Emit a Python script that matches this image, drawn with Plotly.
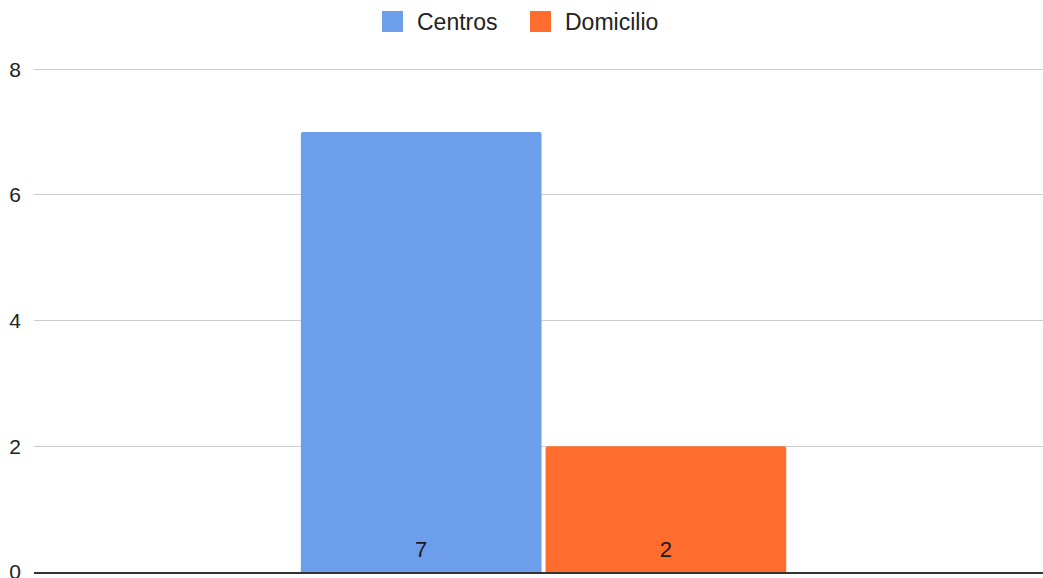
import plotly.graph_objects as go

categories = [""]
centros = [7]
domicilio = [2]
series_names = ["Centros", "Domicilio"]
colors = ["#6d9eeb", "#ff6d2e"]
tick_vals = [0, 2, 4, 6, 8]


def bar_label(v):
    # value on first line; a tiny spacer line lifts it off the bar base
    return f"<span style='font-size:22px'>{v}</span><br>\u00a0"


fig = go.Figure()
for name, vals, col in zip(series_names, [centros, domicilio], colors):
    fig.add_trace(go.Bar(
        x=categories, y=vals, name=name,
        marker=dict(color=col, line=dict(width=0), cornerradius=2),
        text=[bar_label(v) for v in vals], textposition="inside",
        insidetextanchor="start",
        textfont=dict(family="Liberation Sans, Arial", size=8, color="#1a1a1a"),
        showlegend=False,
    ))
    fig.add_trace(go.Scatter(
        x=[None], y=[None], mode="markers", name=name,
        marker=dict(symbol="square", size=16, color=col, line=dict(color=col, width=5)),
        showlegend=True,
    ))

fig.update_layout(
    width=1043, height=578,
    margin=dict(l=34, r=0, t=68, b=6),
    paper_bgcolor="white", plot_bgcolor="white",
    barmode="group", bargap=0.515, bargroupgap=0.0165,
    font=dict(family="Liberation Sans, Arial", size=20, color="#222"),
    legend=dict(orientation="h", xref="container", x=368 / 1043, xanchor="left",
                yref="container", y=1.0, yanchor="top",
                entrywidth=94, entrywidthmode="pixels", itemwidth=39,
                font=dict(size=23), itemsizing="trace"),
    xaxis=dict(showticklabels=False, showgrid=False, zeroline=False,
               range=[-0.505, 0.495], automargin=False,
               showline=True, linecolor="#333", linewidth=2, ticks=""),
    yaxis=dict(range=[0, 8.02], tickvals=tick_vals, showgrid=True, automargin=False,
               gridcolor="#cccccc", gridwidth=1, zeroline=False,
               ticks="", ticklabelstandoff=12, ticklabeloverflow="allow",
               tickfont=dict(size=21, color="#222")),
)
fig.write_html("out.html", config={"displayModeBar": False},
               post_script="document.body.style.margin='0';document.body.style.overflow='hidden';")
